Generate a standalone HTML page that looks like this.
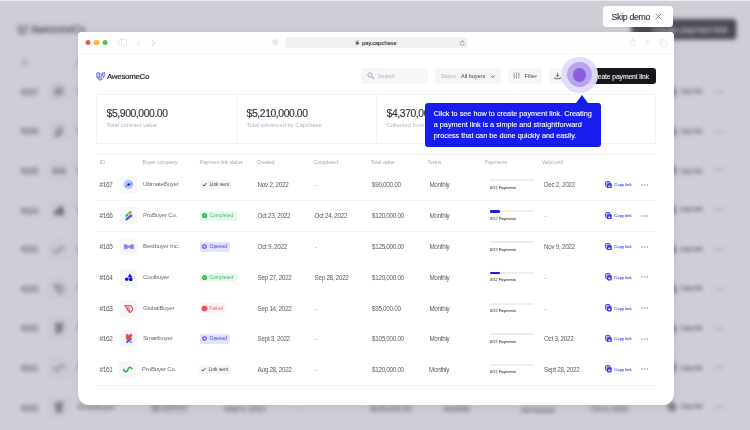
<!DOCTYPE html>
<html lang="en">
<head>
<meta charset="utf-8">
<meta name="viewport" content="width=750, initial-scale=1">
<title>pay.capchase</title>
<style>
*{box-sizing:border-box;margin:0;padding:0}
html,body{width:750px;height:430px;overflow:hidden;background:#fff}
body{font-family:"Liberation Sans",sans-serif;color:#4b4b56;-webkit-font-smoothing:antialiased}
.stage{position:relative;width:750px;height:430px;overflow:hidden;background:#fff}
.pg{position:absolute;left:0;top:0;width:750px;height:430px}
.pg.fg{pointer-events:none}
.bgwrap{position:absolute;left:0;top:0;width:750px;height:430px;overflow:hidden;filter:blur(1.9px) grayscale(1)}
.bgp{transform-origin:0 0;transform:translate(-105.9px,-68px) scale(1.28);height:600px}
.bgp .t{-webkit-text-stroke-width:.22px}
.veil{position:absolute;left:0;top:0;width:750px;height:430px;background:rgba(140,142,160,.433)}
.topline{position:absolute;left:0;top:0;width:750px;height:1px;background:rgba(255,255,255,.6)}
.t{position:absolute;white-space:nowrap;line-height:10px;height:10px;margin-top:-5px}
.ab{position:absolute;display:block;overflow:visible}
svg{display:block}

/* window */
.win{position:absolute;left:77.5px;top:32px;width:596.8px;height:373px;background:#fff;border-radius:4px 4px 11px 11px;box-shadow:0 2px 10px rgba(60,60,90,.10)}
.bar>*{transform:translateX(.5px)}
.bar{position:absolute;left:0;top:0;width:596.8px;height:21.5px;border-bottom:1px solid #f3f3f5;border-radius:4px 4px 0 0;background:#fefefe}
.tl{position:absolute;top:8.1px;width:5.4px;height:5.4px;border-radius:50%}
.tl.r{left:7.6px;background:#ee5a52}
.tl.y{left:15.8px;background:#f4b941}
.tl.g{left:24.1px;background:#4cbf52}
.url{position:absolute;left:207px;top:5px;width:182.4px;height:11.2px;border-radius:3px;background:#f0f0f2}
.ut{font-size:5.8px;color:#3e3e48;font-weight:700;letter-spacing:-.26px}

/* header */
.logo{position:absolute;width:9.8px;height:9px}
.logo svg{width:100%;height:100%}
.brand{font-size:7.9px;color:#26262e;letter-spacing:-.27px;-webkit-text-stroke:.2px #26262e}
.fld{position:absolute;height:16px;border-radius:3px;background:#f6f6f9}
.ph{font-size:5.4px;color:#b4b4c0;letter-spacing:-.05px}
.sv{font-size:5.5px;color:#3c3c46}
.fl{font-size:5.6px;color:#4a4a55}
.cta{position:absolute;height:16px;border-radius:3px;background:#17161b;color:#e9e9ee;font-size:6.8px;font-weight:400;line-height:16px;text-align:right;padding-right:7px;white-space:nowrap;letter-spacing:-.12px;-webkit-text-stroke:.12px #e9e9ee}
.cta span{position:relative;top:1px}

/* stats */
.stats{position:absolute;width:560px;height:49.8px;border:1px solid #f2f2f5;border-radius:1px}
.vd{position:absolute;width:1px;height:48.8px;background:#f2f2f5}
.sv1{font-size:10.4px;color:#33333c;letter-spacing:-.42px;line-height:12px;height:12px;margin-top:-6px;-webkit-text-stroke:.15px #33333c}
.sl{font-size:5.85px;color:#b3b3bf}

/* table */
.hl,.sep{position:absolute;left:96px;width:560px;height:1px;background:#f4f4f6}
.th{font-size:5.3px;color:#a9a9b5;letter-spacing:-.15px}
.id{font-size:6.5px;color:#5a5a66;letter-spacing:-.3px}
.nm{font-size:6.2px;color:#6b6b77;letter-spacing:-.25px}
.td{font-size:6.3px;color:#5a5a66;letter-spacing:-.29px}
.td.dash{color:#8a8a95}
.ib{position:absolute;width:16.7px;height:16.7px;border-radius:3px;background:#f7f7fa}
.ib svg{width:16.7px;height:16.7px}
.b{position:absolute;height:9.9px;border-radius:2px;font-size:4.9px;line-height:10.2px;white-space:nowrap}
.b span{position:absolute;left:9.2px;top:.7px}
.b .bi{position:absolute;left:1px;top:1.5px;width:7px;height:7px}
.bs{background:#f6f6f8;color:#3e3e48}
.bd{background:#e9f9ef;color:#42b866}
.bo{background:#e4e2fd;color:#3a3af0}
.bf{background:#fbf4f5;color:#ee666c}
.pb{position:absolute;width:44px;height:2px;border-radius:1px;background:#eeeef1}
.pb i{position:absolute;left:0;top:-.3px;height:2.6px;border-radius:1.3px;background:#1a1ee8}
.pl{font-size:3.9px;color:#4a4a55;-webkit-text-stroke:.08px #4a4a55}
.cp{position:absolute;width:7.2px;height:8px}
.cp svg{width:7px;height:7.8px}
.cl{font-size:4.2px;color:#4040ee;-webkit-text-stroke:.08px #4040ee}
.dots{width:7px;height:2px;fill:#8a8a96}

/* hotspot */
.spot{position:absolute;left:579.5px;top:74.9px;width:0;height:0}
.spot i{position:absolute;border-radius:50%}
.s1{left:-18.2px;top:-18.2px;width:36.4px;height:36.4px;background:rgba(225,221,249,.96)}
.s2{left:-12.6px;top:-12.6px;width:25.2px;height:25.2px;background:#b6a6ee}
.s3{left:-6.8px;top:-6.8px;width:13.6px;height:13.6px;background:#8e5cde}

/* tooltip */
.tip{position:absolute;left:425.2px;top:102.8px;width:175.8px;height:44.5px;background:#171dec;border-radius:3px;color:#fff}
.tip .arrow{position:absolute;left:150.8px;top:-7.6px;width:0;height:0;border-left:6.6px solid transparent;border-right:6.6px solid transparent;border-bottom:8px solid #171dec}
.tip p{position:absolute;left:8.5px;top:6.6px;font-size:7.3px;line-height:10.7px;white-space:nowrap;-webkit-text-stroke:.1px #fff}

/* skip */
.skip{position:absolute;left:603.3px;top:6.2px;width:69.7px;height:20.5px;border-radius:3.5px;background:#fff}
.skip span{position:absolute;left:8.3px;top:.6px;line-height:20.5px;font-size:8.7px;color:#34343e;letter-spacing:-.3px;-webkit-text-stroke:.15px #34343e;white-space:nowrap}
.skip svg{position:absolute;left:51.5px;top:7px;width:7px;height:7px}

</style>
</head>
<body>
<div class="stage">

<div class="bgwrap" aria-hidden="true">
<div class="pg bgp">
<div class="logo" style="left:95.6px;top:72px"><svg class="lg" viewBox="0 0 20 18"><rect x="1.5" y="1.2" width="5.600" height="10" rx="1.200" fill="#c6cbff" stroke="#4a55f2" stroke-width="1.500"/><rect x="8" y="3" width="3.800" height="9" rx="1" fill="#dfe2ff" stroke="#6a74f6" stroke-width="1.200"/><path d="M13 1.800l5.200-.8q.8 5.200-2 8.600l-3.600-1.800z" fill="#c6cbff" stroke="#4a55f2" stroke-width="1.500" stroke-linejoin="round"/><path d="M2.400 10.500q1.600 5 6.800 6 4.400-1.400 6.800-6" fill="none" stroke="#4a55f2" stroke-width="1.600"/><circle cx="8" cy="13.200" r="2.500" fill="#e6e8ff" stroke="#4a55f2" stroke-width="1.300"/></svg></div>
<div class="t brand" style="left:107px;top:76.6px">AwesomeCo</div>
<div class="cta" style="left:576px;top:68.3px;width:82px"><span>Create payment link</span></div>
<div class="t th" style="left:99.6px;top:102.3px">ID</div>
<div class="t th" style="left:142.6px;top:102.3px">Buyer company</div>
<div class="t th" style="left:199.6px;top:102.3px">Payment link status</div>
<div class="t th" style="left:256.6px;top:102.3px">Created</div>
<div class="t th" style="left:313.6px;top:102.3px">Completed</div>
<div class="t th" style="left:370.6px;top:102.3px">Total value</div>
<div class="t th" style="left:427.6px;top:102.3px">Terms</div>
<div class="t th" style="left:484.6px;top:102.3px">Payments</div>
<div class="t th" style="left:541.8px;top:102.3px">Valid until</div>
<div class="row">
<div class="t id" style="left:99.4px;top:125.1px">#167</div>
<div class="ib" style="left:119.9px;top:116.4px"><svg viewBox="0 0 16 16"><circle cx="8.2" cy="8.1" r="4.5" fill="#b4caff"/><path d="M5 10.2l3.200-2" stroke="#6f72f4" stroke-width="1" fill="none"/><path d="M10.900 5.600v3.200" stroke="#6f80f6" stroke-width="1"/><circle cx="8.400" cy="8.200" r="1.200" fill="#1a1ae8"/></svg></div>
<div class="t nm" style="left:143px;top:124.4px">UltimateBuyer</div>
<div class="b bs" style="left:200.4px;top:119.9px;width:31.6px"><svg class="bi" viewBox="0 0 7 7"><path d="M1.600 3.700l1.300 1.300 2.500-2.900" stroke="#3c3c46" stroke-width=".95" fill="none"/></svg><span>Link sent</span></div>
<div class="t td" style="left:257.6px;top:125.1px">Nov 2, 2022</div>
<div class="t td dash" style="left:315px;top:125.1px">-</div>
<div class="t td" style="left:372px;top:125.1px">$90,000.00</div>
<div class="t td" style="left:429.4px;top:125.1px">Monthly</div>
<div class="pb" style="left:490px;top:119.6px"></div>
<div class="t pl" style="left:490px;top:127.8px">0/12 Payments</div>
<div class="t td" style="left:544px;top:125.1px">Dec 2, 2022</div>
<div class="cp" style="left:603.6px;top:120.8px"><svg class="ci" viewBox="0 0 14 16" preserveAspectRatio="none"><rect x="1" y="1" width="9" height="10.4" rx="2" fill="#b9b9fa" stroke="#4040ee" stroke-width="1.9"/><rect x="4" y="4.6" width="9.4" height="10.6" rx="2.2" fill="#3636ea"/><rect x="6.6" y="9.4" width="4.2" height="3.4" rx="0.8" fill="#fff" opacity=".9"/></svg></div>
<div class="t cl" style="left:614.3px;top:125px">Copy link</div>
<svg class="ab dots" style="left:640.6px;top:123.8px" viewBox="0 0 7 2"><circle cx=".9" cy="1" r=".75"/><circle cx="3.5" cy="1" r=".75"/><circle cx="6.1" cy="1" r=".75"/></svg>
</div>
<div class="row">
<div class="t id" style="left:99.4px;top:155.9px">#166</div>
<div class="ib" style="left:119.9px;top:147.2px"><svg viewBox="0 0 16 16"><path d="M6 8.400L10.100 4.900" stroke="#3fb654" stroke-width="2.100" stroke-linecap="round"/><rect x="7.100" y="5.600" width="1.900" height="1.900" transform="rotate(45 8 6.600)" fill="#f5b23a"/><path d="M6.200 11.800L10.800 8.200" stroke="#5a5cf6" stroke-width="2.300" stroke-linecap="round"/></svg></div>
<div class="t nm" style="left:143px;top:155.2px">ProBuyer Co.</div>
<div class="b bd" style="left:200.4px;top:150.7px;width:36.6px"><svg class="bi" viewBox="0 0 7 7"><circle cx="3.500" cy="3.500" r="2.600" fill="#38b552"/><path d="M2.600 3.600l.7.700 1.200-1.400" stroke="#dff5e5" stroke-width=".7" fill="none"/></svg><span>Completed</span></div>
<div class="t td" style="left:257.6px;top:155.9px">Oct 23, 2022</div>
<div class="t td" style="left:314.6px;top:155.9px">Oct 24, 2022</div>
<div class="t td" style="left:372px;top:155.9px">$120,000.00</div>
<div class="t td" style="left:429.4px;top:155.9px">Monthly</div>
<div class="pb" style="left:490px;top:150.4px"><i style="width:10.4px"></i></div>
<div class="t pl" style="left:490px;top:158.6px">3/12 Payments</div>
<div class="t td dash" style="left:544.4px;top:155.9px">-</div>
<div class="cp" style="left:603.6px;top:151.6px"><svg class="ci" viewBox="0 0 14 16" preserveAspectRatio="none"><rect x="1" y="1" width="9" height="10.4" rx="2" fill="#b9b9fa" stroke="#4040ee" stroke-width="1.9"/><rect x="4" y="4.6" width="9.4" height="10.6" rx="2.2" fill="#3636ea"/><rect x="6.6" y="9.4" width="4.2" height="3.4" rx="0.8" fill="#fff" opacity=".9"/></svg></div>
<div class="t cl" style="left:614.3px;top:155.8px">Copy link</div>
<svg class="ab dots" style="left:640.6px;top:154.6px" viewBox="0 0 7 2"><circle cx=".9" cy="1" r=".75"/><circle cx="3.5" cy="1" r=".75"/><circle cx="6.1" cy="1" r=".75"/></svg>
</div>
<div class="row">
<div class="t id" style="left:99.4px;top:186.7px">#165</div>
<div class="ib" style="left:119.9px;top:178px"><svg viewBox="0 0 16 16"><path d="M4 6.300q2.300-.2 4.500 1.300 2.200-1.500 4.500-1.300v4.200q-2.300.2-4.500-1.300-2.200 1.500-4.500 1.300z" fill="#9d88f5" stroke="#9d88f5" stroke-width=".7" stroke-linejoin="round"/><circle cx="5.600" cy="8.400" r=".9" fill="#6f74f6"/><circle cx="11.300" cy="8.400" r=".9" fill="#6f74f6"/></svg></div>
<div class="t nm" style="left:143px;top:186px">Bestbuyer Inc.</div>
<div class="b bo" style="left:200.4px;top:181.5px;width:29.6px"><svg class="bi" viewBox="0 0 7 7"><circle cx="3.500" cy="3.500" r="1.800" fill="#dcdcfc" stroke="#4545f0" stroke-width="1.100"/></svg><span>Opened</span></div>
<div class="t td" style="left:257.6px;top:186.7px">Oct 9, 2022</div>
<div class="t td dash" style="left:315px;top:186.7px">-</div>
<div class="t td" style="left:372px;top:186.7px">$125,000.00</div>
<div class="t td" style="left:429.4px;top:186.7px">Monthly</div>
<div class="pb" style="left:490px;top:181.2px"></div>
<div class="t pl" style="left:490px;top:189.4px">0/12 Payments</div>
<div class="t td" style="left:544px;top:186.7px">Nov 9, 2022</div>
<div class="cp" style="left:603.6px;top:182.4px"><svg class="ci" viewBox="0 0 14 16" preserveAspectRatio="none"><rect x="1" y="1" width="9" height="10.4" rx="2" fill="#b9b9fa" stroke="#4040ee" stroke-width="1.9"/><rect x="4" y="4.6" width="9.4" height="10.6" rx="2.2" fill="#3636ea"/><rect x="6.6" y="9.4" width="4.2" height="3.4" rx="0.8" fill="#fff" opacity=".9"/></svg></div>
<div class="t cl" style="left:614.3px;top:186.6px">Copy link</div>
<svg class="ab dots" style="left:640.6px;top:185.4px" viewBox="0 0 7 2"><circle cx=".9" cy="1" r=".75"/><circle cx="3.5" cy="1" r=".75"/><circle cx="6.1" cy="1" r=".75"/></svg>
</div>
<div class="row">
<div class="t id" style="left:99.4px;top:217.5px">#164</div>
<div class="ib" style="left:119.9px;top:208.8px"><svg viewBox="0 0 16 16"><path d="M9.500 4.700l2 3.100H7.900z" fill="#0d0df0" stroke="#0d0df0" stroke-width=".5" stroke-linejoin="round"/><circle cx="6.500" cy="9.800" r="1.700" fill="#0d0df0"/><rect x="8.700" y="8.300" width="3.200" height="3.300" rx=".7" fill="#0d0df0"/></svg></div>
<div class="t nm" style="left:143px;top:216.8px">Coolbuyer</div>
<div class="b bd" style="left:200.4px;top:212.3px;width:36.6px"><svg class="bi" viewBox="0 0 7 7"><circle cx="3.500" cy="3.500" r="2.600" fill="#38b552"/><path d="M2.600 3.600l.7.700 1.200-1.400" stroke="#dff5e5" stroke-width=".7" fill="none"/></svg><span>Completed</span></div>
<div class="t td" style="left:257.6px;top:217.5px">Sep 27, 2022</div>
<div class="t td" style="left:314.6px;top:217.5px">Sep 28, 2022</div>
<div class="t td" style="left:372px;top:217.5px">$120,000.00</div>
<div class="t td" style="left:429.4px;top:217.5px">Monthly</div>
<div class="pb" style="left:490px;top:212px"><i style="width:10.4px"></i></div>
<div class="t pl" style="left:490px;top:220.2px">3/12 Payments</div>
<div class="t td dash" style="left:544.4px;top:217.5px">-</div>
<div class="cp" style="left:603.6px;top:213.2px"><svg class="ci" viewBox="0 0 14 16" preserveAspectRatio="none"><rect x="1" y="1" width="9" height="10.4" rx="2" fill="#b9b9fa" stroke="#4040ee" stroke-width="1.9"/><rect x="4" y="4.6" width="9.4" height="10.6" rx="2.2" fill="#3636ea"/><rect x="6.6" y="9.4" width="4.2" height="3.4" rx="0.8" fill="#fff" opacity=".9"/></svg></div>
<div class="t cl" style="left:614.3px;top:217.4px">Copy link</div>
<svg class="ab dots" style="left:640.6px;top:216.2px" viewBox="0 0 7 2"><circle cx=".9" cy="1" r=".75"/><circle cx="3.5" cy="1" r=".75"/><circle cx="6.1" cy="1" r=".75"/></svg>
</div>
<div class="row">
<div class="t id" style="left:99.4px;top:248.3px">#161</div>
<div class="ib" style="left:119.9px;top:239.6px"><svg viewBox="0 0 16 16"><path d="M4.700 8.200C5 10.700 7.600 10.800 8.400 8.300 9.100 5.800 11 5.300 12.300 7.300" stroke="#38b84f" stroke-width="1.700" fill="none" stroke-linecap="round"/></svg></div>
<div class="t nm" style="left:143px;top:247.6px">ProBuyer Co.</div>
<div class="b bs" style="left:200.4px;top:243.1px;width:31.6px"><svg class="bi" viewBox="0 0 7 7"><path d="M1.600 3.700l1.300 1.300 2.500-2.900" stroke="#3c3c46" stroke-width=".95" fill="none"/></svg><span>Link sent</span></div>
<div class="t td" style="left:257.6px;top:248.3px">Aug 28, 2022</div>
<div class="t td dash" style="left:315px;top:248.3px">-</div>
<div class="t td" style="left:372px;top:248.3px">$120,000.00</div>
<div class="t td" style="left:429.4px;top:248.3px">Monthly</div>
<div class="pb" style="left:490px;top:242.8px"></div>
<div class="t pl" style="left:490px;top:251px">0/12 Payments</div>
<div class="t td" style="left:544px;top:248.3px">Sept 28, 2022</div>
<div class="cp" style="left:603.6px;top:244px"><svg class="ci" viewBox="0 0 14 16" preserveAspectRatio="none"><rect x="1" y="1" width="9" height="10.4" rx="2" fill="#b9b9fa" stroke="#4040ee" stroke-width="1.9"/><rect x="4" y="4.6" width="9.4" height="10.6" rx="2.2" fill="#3636ea"/><rect x="6.6" y="9.4" width="4.2" height="3.4" rx="0.8" fill="#fff" opacity=".9"/></svg></div>
<div class="t cl" style="left:614.3px;top:248.2px">Copy link</div>
<svg class="ab dots" style="left:640.6px;top:247px" viewBox="0 0 7 2"><circle cx=".9" cy="1" r=".75"/><circle cx="3.5" cy="1" r=".75"/><circle cx="6.1" cy="1" r=".75"/></svg>
</div>
<div class="row">
<div class="t id" style="left:99.4px;top:279.1px">#163</div>
<div class="ib" style="left:119.9px;top:270.4px"><svg viewBox="-.6 -.7 17.400 17.400"><path d="M4.300 5l6.100.3q2.700 1.700 2.100 4.300-.8 2.200-3.200 2.700z" fill="none" stroke="#e84545" stroke-width="1.050" stroke-linejoin="round"/><path d="M6.500 6.800l2.800.2M8.800 7l.6 4.600M6.600 7l2.600 4.400" stroke="#e84545" stroke-width=".8" fill="none"/></svg></div>
<div class="t nm" style="left:143px;top:278.4px">GlobalBuyer</div>
<div class="b bf" style="left:200.4px;top:273.9px;width:25.6px"><svg class="bi" viewBox="0 0 7 7"><path d="M2.400.9h2.200l1.500 1.500v2.200L4.600 6.100H2.400L.9 4.600V2.400z" fill="#ea5050" stroke="#ea5050" stroke-width=".5" stroke-linejoin="round"/></svg><span>Failed</span></div>
<div class="t td" style="left:257.6px;top:279.1px">Sep 14, 2022</div>
<div class="t td dash" style="left:315px;top:279.1px">-</div>
<div class="t td" style="left:372px;top:279.1px">$95,000.00</div>
<div class="t td" style="left:429.4px;top:279.1px">Monthly</div>
<div class="pb" style="left:490px;top:273.6px"></div>
<div class="t pl" style="left:490px;top:281.8px">0/12 Payments</div>
<div class="t td dash" style="left:544.4px;top:279.1px">-</div>
<div class="cp" style="left:603.6px;top:274.8px"><svg class="ci" viewBox="0 0 14 16" preserveAspectRatio="none"><rect x="1" y="1" width="9" height="10.4" rx="2" fill="#b9b9fa" stroke="#4040ee" stroke-width="1.9"/><rect x="4" y="4.6" width="9.4" height="10.6" rx="2.2" fill="#3636ea"/><rect x="6.6" y="9.4" width="4.2" height="3.4" rx="0.8" fill="#fff" opacity=".9"/></svg></div>
<div class="t cl" style="left:614.3px;top:279px">Copy link</div>
<svg class="ab dots" style="left:640.6px;top:277.8px" viewBox="0 0 7 2"><circle cx=".9" cy="1" r=".75"/><circle cx="3.5" cy="1" r=".75"/><circle cx="6.1" cy="1" r=".75"/></svg>
</div>
<div class="row">
<div class="t id" style="left:99.4px;top:309.9px">#162</div>
<div class="ib" style="left:119.9px;top:301.2px"><svg viewBox="0 0 16 16"><path d="M6.200 4l2.300 1.200L11 3.900l.4 1.700-2.200 2.300-2.600 1.400-.6-2.600z" fill="#ea4a46" stroke="#ea4a46" stroke-width=".9" stroke-linejoin="round"/><path d="M10.300 8.300L6.900 11.500" stroke="#7a3cf0" stroke-width="2.100" stroke-linecap="round"/><circle cx="10.500" cy="8.200" r="1.050" fill="#5c74f8"/><circle cx="10.500" cy="11.600" r="1" fill="#3fb654"/></svg></div>
<div class="t nm" style="left:143px;top:309.2px">Smartbuyer</div>
<div class="b bo" style="left:200.4px;top:304.7px;width:29.6px"><svg class="bi" viewBox="0 0 7 7"><circle cx="3.500" cy="3.500" r="1.800" fill="#dcdcfc" stroke="#4545f0" stroke-width="1.100"/></svg><span>Opened</span></div>
<div class="t td" style="left:257.6px;top:309.9px">Sept 3, 2022</div>
<div class="t td dash" style="left:315px;top:309.9px">-</div>
<div class="t td" style="left:372px;top:309.9px">$105,000.00</div>
<div class="t td" style="left:429.4px;top:309.9px">Monthly</div>
<div class="pb" style="left:490px;top:304.4px"></div>
<div class="t pl" style="left:490px;top:312.6px">0/12 Payments</div>
<div class="t td" style="left:544px;top:309.9px">Oct 3, 2022</div>
<div class="cp" style="left:603.6px;top:305.6px"><svg class="ci" viewBox="0 0 14 16" preserveAspectRatio="none"><rect x="1" y="1" width="9" height="10.4" rx="2" fill="#b9b9fa" stroke="#4040ee" stroke-width="1.9"/><rect x="4" y="4.6" width="9.4" height="10.6" rx="2.2" fill="#3636ea"/><rect x="6.6" y="9.4" width="4.2" height="3.4" rx="0.8" fill="#fff" opacity=".9"/></svg></div>
<div class="t cl" style="left:614.3px;top:309.8px">Copy link</div>
<svg class="ab dots" style="left:640.6px;top:308.6px" viewBox="0 0 7 2"><circle cx=".9" cy="1" r=".75"/><circle cx="3.5" cy="1" r=".75"/><circle cx="6.1" cy="1" r=".75"/></svg>
</div>
<div class="row">
<div class="t id" style="left:99.4px;top:340.7px">#161</div>
<div class="ib" style="left:119.9px;top:332px"><svg viewBox="0 0 16 16"><path d="M4.700 8.200C5 10.700 7.600 10.800 8.400 8.300 9.100 5.800 11 5.300 12.300 7.300" stroke="#38b84f" stroke-width="1.700" fill="none" stroke-linecap="round"/></svg></div>
<div class="t nm" style="left:143px;top:340px">ProBuyer Co.</div>
<div class="b bs" style="left:200.4px;top:335.5px;width:31.6px"><svg class="bi" viewBox="0 0 7 7"><path d="M1.600 3.700l1.300 1.300 2.500-2.900" stroke="#3c3c46" stroke-width=".95" fill="none"/></svg><span>Link sent</span></div>
<div class="t td" style="left:257.6px;top:340.7px">Aug 28, 2022</div>
<div class="t td dash" style="left:315px;top:340.7px">-</div>
<div class="t td" style="left:372px;top:340.7px">$120,000.00</div>
<div class="t td" style="left:429.4px;top:340.7px">Monthly</div>
<div class="pb" style="left:490px;top:335.2px"></div>
<div class="t pl" style="left:490px;top:343.4px">0/12 Payments</div>
<div class="t td" style="left:544px;top:340.7px">Sept 28, 2022</div>
<div class="cp" style="left:603.6px;top:336.4px"><svg class="ci" viewBox="0 0 14 16" preserveAspectRatio="none"><rect x="1" y="1" width="9" height="10.4" rx="2" fill="#b9b9fa" stroke="#4040ee" stroke-width="1.9"/><rect x="4" y="4.6" width="9.4" height="10.6" rx="2.2" fill="#3636ea"/><rect x="6.6" y="9.4" width="4.2" height="3.4" rx="0.8" fill="#fff" opacity=".9"/></svg></div>
<div class="t cl" style="left:614.3px;top:340.6px">Copy link</div>
<svg class="ab dots" style="left:640.6px;top:339.4px" viewBox="0 0 7 2"><circle cx=".9" cy="1" r=".75"/><circle cx="3.5" cy="1" r=".75"/><circle cx="6.1" cy="1" r=".75"/></svg>
</div>
<div class="row">
<div class="t id" style="left:99.4px;top:371.5px">#162</div>
<div class="ib" style="left:119.9px;top:362.8px"><svg viewBox="0 0 16 16"><path d="M6.200 4l2.300 1.200L11 3.900l.4 1.700-2.200 2.300-2.600 1.400-.6-2.600z" fill="#ea4a46" stroke="#ea4a46" stroke-width=".9" stroke-linejoin="round"/><path d="M10.300 8.300L6.900 11.500" stroke="#7a3cf0" stroke-width="2.100" stroke-linecap="round"/><circle cx="10.500" cy="8.200" r="1.050" fill="#5c74f8"/><circle cx="10.500" cy="11.600" r="1" fill="#3fb654"/></svg></div>
<div class="t nm" style="left:143px;top:370.8px">Smartbuyer</div>
<div class="b bo" style="left:200.4px;top:366.3px;width:29.6px"><svg class="bi" viewBox="0 0 7 7"><circle cx="3.500" cy="3.500" r="1.800" fill="#dcdcfc" stroke="#4545f0" stroke-width="1.100"/></svg><span>Opened</span></div>
<div class="t td" style="left:257.6px;top:371.5px">Sept 3, 2022</div>
<div class="t td dash" style="left:315px;top:371.5px">-</div>
<div class="t td" style="left:372px;top:371.5px">$105,000.00</div>
<div class="t td" style="left:429.4px;top:371.5px">Monthly</div>
<div class="pb" style="left:490px;top:366px"></div>
<div class="t pl" style="left:490px;top:374.2px">0/12 Payments</div>
<div class="t td" style="left:544px;top:371.5px">Oct 3, 2022</div>
<div class="cp" style="left:603.6px;top:367.2px"><svg class="ci" viewBox="0 0 14 16" preserveAspectRatio="none"><rect x="1" y="1" width="9" height="10.4" rx="2" fill="#b9b9fa" stroke="#4040ee" stroke-width="1.9"/><rect x="4" y="4.6" width="9.4" height="10.6" rx="2.2" fill="#3636ea"/><rect x="6.6" y="9.4" width="4.2" height="3.4" rx="0.8" fill="#fff" opacity=".9"/></svg></div>
<div class="t cl" style="left:614.3px;top:371.4px">Copy link</div>
<svg class="ab dots" style="left:640.6px;top:370.2px" viewBox="0 0 7 2"><circle cx=".9" cy="1" r=".75"/><circle cx="3.5" cy="1" r=".75"/><circle cx="6.1" cy="1" r=".75"/></svg>
</div>
<div class="row">
<div class="t id" style="left:99.4px;top:402.3px">#164</div>
<div class="ib" style="left:119.9px;top:393.6px"><svg viewBox="0 0 16 16"><path d="M9.500 4.700l2 3.100H7.900z" fill="#0d0df0" stroke="#0d0df0" stroke-width=".5" stroke-linejoin="round"/><circle cx="6.500" cy="9.800" r="1.700" fill="#0d0df0"/><rect x="8.700" y="8.300" width="3.200" height="3.300" rx=".7" fill="#0d0df0"/></svg></div>
<div class="t nm" style="left:143px;top:401.6px">Coolbuyer</div>
<div class="b bd" style="left:200.4px;top:397.1px;width:36.6px"><svg class="bi" viewBox="0 0 7 7"><circle cx="3.500" cy="3.500" r="2.600" fill="#38b552"/><path d="M2.600 3.600l.7.700 1.200-1.400" stroke="#dff5e5" stroke-width=".7" fill="none"/></svg><span>Completed</span></div>
<div class="t td" style="left:257.6px;top:402.3px">Sep 27, 2022</div>
<div class="t td" style="left:314.6px;top:402.3px">Sep 28, 2022</div>
<div class="t td" style="left:372px;top:402.3px">$120,000.00</div>
<div class="t td" style="left:429.4px;top:402.3px">Monthly</div>
<div class="pb" style="left:490px;top:396.8px"><i style="width:10.4px"></i></div>
<div class="t pl" style="left:490px;top:405px">3/12 Payments</div>
<div class="t td dash" style="left:544.4px;top:402.3px">-</div>
<div class="cp" style="left:603.6px;top:398px"><svg class="ci" viewBox="0 0 14 16" preserveAspectRatio="none"><rect x="1" y="1" width="9" height="10.4" rx="2" fill="#b9b9fa" stroke="#4040ee" stroke-width="1.9"/><rect x="4" y="4.6" width="9.4" height="10.6" rx="2.2" fill="#3636ea"/><rect x="6.6" y="9.4" width="4.2" height="3.4" rx="0.8" fill="#fff" opacity=".9"/></svg></div>
<div class="t cl" style="left:614.3px;top:402.2px">Copy link</div>
<svg class="ab dots" style="left:640.6px;top:401px" viewBox="0 0 7 2"><circle cx=".9" cy="1" r=".75"/><circle cx="3.5" cy="1" r=".75"/><circle cx="6.1" cy="1" r=".75"/></svg>
</div>
</div>
</div>
<div class="veil"></div>
<div class="topline"></div>

<div class="win">
<div class="bar">
<i class="tl r"></i><i class="tl y"></i><i class="tl g"></i>
<svg class="ab" style="left:40.2px;top:7.2px;width:8.6px;height:6.6px" viewBox="0 0 17 13"><rect x=".8" y=".8" width="15.4" height="11.4" rx="1.8" fill="none" stroke="#dedee3" stroke-width="1.5"/><path d="M6 1v11" stroke="#dedee3" stroke-width="1.4"/></svg>
<svg class="ab" style="left:58.6px;top:7.6px;width:3.8px;height:6.2px" viewBox="0 0 7 12"><path d="M6 1L1.2 6 6 11" fill="none" stroke="#dcdce1" stroke-width="1.6"/></svg>
<svg class="ab" style="left:73px;top:7.6px;width:3.8px;height:6.2px" viewBox="0 0 7 12"><path d="M1 1l4.8 5L1 11" fill="none" stroke="#b9b9c1" stroke-width="1.6"/></svg>
<svg class="ab" style="left:194.6px;top:6.8px;width:5.6px;height:6.8px" viewBox="0 0 11 13"><path d="M5.5 1l4.5 1.6v3.8c0 2.8-1.8 4.6-4.5 5.6C2.8 11 1 9.2 1 6.4V2.6z" fill="#ececef" stroke="#dadadf" stroke-width="1.2"/></svg>
<div class="url"></div>
<svg class="ab" style="left:277.8px;top:8px;width:3.6px;height:4.8px" viewBox="0 0 8 10"><rect x=".5" y="4" width="7" height="5.8" rx="1.2" fill="#62626c"/><path d="M2 4.2V3a2 2 0 0 1 4 0v1.2" stroke="#62626c" stroke-width="1.3" fill="none"/></svg>
<div class="t ut" style="left:284px;top:10.8px">pay.capchase</div>
<svg class="ab" style="left:381.4px;top:7.6px;width:5.8px;height:6.2px" viewBox="0 0 12 13"><path d="M10 7a4.2 4.2 0 1 1-1.6-3.4" fill="none" stroke="#8a8a94" stroke-width="1.5"/><path d="M6.8 1l2.2 2.4-2.6 1.4" fill="none" stroke="#8a8a94" stroke-width="1.3"/></svg>
<svg class="ab" style="left:551.8px;top:6.2px;width:6.6px;height:7.8px" viewBox="0 0 13 16"><path d="M4 5.5H1.8v9.5h9.4V5.5H9" fill="none" stroke="#e3e3e8" stroke-width="1.4"/><path d="M6.5 9.5V1M4 3.2L6.500.9 9 3.2" fill="none" stroke="#e3e3e8" stroke-width="1.4"/></svg>
<svg class="ab" style="left:566.4px;top:7.4px;width:6.4px;height:6.4px" viewBox="0 0 12 12"><path d="M6 .5v11M.5 6h11" stroke="#e3e3e8" stroke-width="1.4"/></svg>
<svg class="ab" style="left:581.2px;top:6.6px;width:7.6px;height:7.6px" viewBox="0 0 15 15"><rect x="4" y="4" width="10" height="10" rx="2" fill="none" stroke="#e3e3e8" stroke-width="1.4"/><path d="M11 2.5A1.8 1.8 0 0 0 9.4 1.2H3A2 2 0 0 0 1 3.2v6.4A1.8 1.8 0 0 0 2.4 11" fill="none" stroke="#e3e3e8" stroke-width="1.4"/></svg>
</div>
</div>

<div class="pg fg">
<div class="logo" style="left:95.6px;top:72px"><svg class="lg" viewBox="0 0 20 18"><rect x="1.5" y="1.2" width="5.600" height="10" rx="1.200" fill="#c6cbff" stroke="#4a55f2" stroke-width="1.500"/><rect x="8" y="3" width="3.800" height="9" rx="1" fill="#dfe2ff" stroke="#6a74f6" stroke-width="1.200"/><path d="M13 1.800l5.200-.8q.8 5.200-2 8.600l-3.600-1.800z" fill="#c6cbff" stroke="#4a55f2" stroke-width="1.500" stroke-linejoin="round"/><path d="M2.400 10.500q1.600 5 6.800 6 4.400-1.400 6.800-6" fill="none" stroke="#4a55f2" stroke-width="1.600"/><circle cx="8" cy="13.200" r="2.500" fill="#e6e8ff" stroke="#4a55f2" stroke-width="1.300"/></svg></div>
<div class="t brand" style="left:107px;top:76.6px">AwesomeCo</div>
<div class="fld" style="left:361.3px;top:67.8px;width:66.8px"></div>
<svg class="ab" style="left:367px;top:71.6px;width:7.4px;height:7.4px" viewBox="0 0 16 16"><circle cx="6.4" cy="6.4" r="4.6" fill="none" stroke="#a2a2b0" stroke-width="2"/><path d="M10 10l4.6 4.6" stroke="#a2a2b0" stroke-width="2.4" stroke-linecap="round"/></svg>
<div class="t ph" style="left:378px;top:76px">Search</div>
<div class="fld" style="left:434.6px;top:67.8px;width:66.6px"></div>
<div class="t ph" style="left:441px;top:76px">Status :</div>
<div class="t sv" style="left:461px;top:76px">All buyers</div>
<svg class="ab" style="left:489.6px;top:73.6px;width:5.4px;height:5px" viewBox="0 0 10 9"><path d="M1.6 2.8L5 6.2 8.4 2.8" stroke="#3c3c46" stroke-width="1.5" fill="none"/></svg>
<div class="fld" style="left:508px;top:67.8px;width:34px"></div>
<svg class="ab" style="left:513.4px;top:72.4px;width:7px;height:7.2px" viewBox="0 0 14 14"><path d="M2.4 1v4M2.4 8v5M7 1v6M7 10v3M11.6 1v2.5M11.6 6.5V13" stroke="#6a6a76" stroke-width="1.3"/><path d="M.8 6.4h3.2M5.4 8.6h3.2M10 5h3.2" stroke="#6a6a76" stroke-width="1.3"/></svg>
<div class="t fl" style="left:524.6px;top:76px">Filter</div>
<div class="fld" style="left:549px;top:67.8px;width:17px"></div>
<svg class="ab" style="left:554.2px;top:71.8px;width:7.2px;height:7.6px" viewBox="0 0 14 15"><path d="M7 1.5v7.4M3.8 6.2L7 9.4l3.2-3.2" stroke="#4a4a55" stroke-width="1.6" fill="none"/><path d="M1.6 10.4v2.8h10.8v-2.8" stroke="#4a4a55" stroke-width="1.6" fill="none"/></svg>
<div class="cta" style="left:575px;top:67.8px;width:81px"><span>Create payment link</span></div>
<div class="stats" style="left:96px;top:94px"></div>
<div class="t sv1" style="left:106.6px;top:114.4px">$5,900,000.00</div>
<div class="t sl" style="left:106.6px;top:125.4px">Total contract value</div>
<div class="vd" style="left:236.4px;top:94.5px"></div>
<div class="t sv1" style="left:246.6px;top:114.4px">$5,210,000.00</div>
<div class="t sl" style="left:246.6px;top:125.4px">Total advanced by Capchase</div>
<div class="vd" style="left:376.4px;top:94.5px"></div>
<div class="t sv1" style="left:386.6px;top:114.4px">$4,370,000.00</div>
<div class="t sl" style="left:386.6px;top:125.4px">Collected from buyers</div>
<div class="vd" style="left:516.4px;top:94.5px"></div>
<div class="hl" style="top:154px"></div>
<div class="t th" style="left:99.6px;top:162px">ID</div>
<div class="t th" style="left:142.6px;top:162px">Buyer company</div>
<div class="t th" style="left:199.6px;top:162px">Payment link status</div>
<div class="t th" style="left:256.6px;top:162px">Created</div>
<div class="t th" style="left:313.6px;top:162px">Completed</div>
<div class="t th" style="left:370.6px;top:162px">Total value</div>
<div class="t th" style="left:427.6px;top:162px">Terms</div>
<div class="t th" style="left:484.6px;top:162px">Payments</div>
<div class="t th" style="left:541.8px;top:162px">Valid until</div>
<div class="row">
<div class="t id" style="left:99.4px;top:184.8px">#167</div>
<div class="ib" style="left:119.9px;top:176.1px"><svg viewBox="0 0 16 16"><circle cx="8.2" cy="8.1" r="4.5" fill="#b4caff"/><path d="M5 10.2l3.200-2" stroke="#6f72f4" stroke-width="1" fill="none"/><path d="M10.900 5.600v3.200" stroke="#6f80f6" stroke-width="1"/><circle cx="8.400" cy="8.200" r="1.200" fill="#1a1ae8"/></svg></div>
<div class="t nm" style="left:143px;top:184.1px">UltimateBuyer</div>
<div class="b bs" style="left:200.4px;top:179.6px;width:31.6px"><svg class="bi" viewBox="0 0 7 7"><path d="M1.600 3.700l1.300 1.300 2.500-2.900" stroke="#3c3c46" stroke-width=".95" fill="none"/></svg><span>Link sent</span></div>
<div class="t td" style="left:257.6px;top:184.8px">Nov 2, 2022</div>
<div class="t td dash" style="left:315px;top:184.8px">-</div>
<div class="t td" style="left:372px;top:184.8px">$90,000.00</div>
<div class="t td" style="left:429.4px;top:184.8px">Monthly</div>
<div class="pb" style="left:490px;top:179.3px"></div>
<div class="t pl" style="left:490px;top:187.5px">0/12 Payments</div>
<div class="t td" style="left:544px;top:184.8px">Dec 2, 2022</div>
<div class="cp" style="left:605.2px;top:180.5px"><svg class="ci" viewBox="0 0 14 16" preserveAspectRatio="none"><rect x="1" y="1" width="9" height="10.4" rx="2" fill="#b9b9fa" stroke="#4040ee" stroke-width="1.9"/><rect x="4" y="4.6" width="9.4" height="10.6" rx="2.2" fill="#3636ea"/><rect x="6.6" y="9.4" width="4.2" height="3.4" rx="0.8" fill="#fff" opacity=".9"/></svg></div>
<div class="t cl" style="left:614.3px;top:184.7px">Copy link</div>
<svg class="ab dots" style="left:640.6px;top:183.5px" viewBox="0 0 7 2"><circle cx=".9" cy="1" r=".75"/><circle cx="3.5" cy="1" r=".75"/><circle cx="6.1" cy="1" r=".75"/></svg>
<div class="sep" style="top:199.6px"></div>
</div>
<div class="row">
<div class="t id" style="left:99.4px;top:215.9px">#166</div>
<div class="ib" style="left:119.9px;top:207.2px"><svg viewBox="0 0 16 16"><path d="M6 8.400L10.100 4.900" stroke="#3fb654" stroke-width="2.100" stroke-linecap="round"/><rect x="7.100" y="5.600" width="1.900" height="1.900" transform="rotate(45 8 6.600)" fill="#f5b23a"/><path d="M6.200 11.800L10.800 8.200" stroke="#5a5cf6" stroke-width="2.300" stroke-linecap="round"/></svg></div>
<div class="t nm" style="left:143px;top:215.2px">ProBuyer Co.</div>
<div class="b bd" style="left:200.4px;top:210.7px;width:36.6px"><svg class="bi" viewBox="0 0 7 7"><circle cx="3.500" cy="3.500" r="2.600" fill="#38b552"/><path d="M2.600 3.600l.7.700 1.200-1.400" stroke="#dff5e5" stroke-width=".7" fill="none"/></svg><span>Completed</span></div>
<div class="t td" style="left:257.6px;top:215.9px">Oct 23, 2022</div>
<div class="t td" style="left:314.6px;top:215.9px">Oct 24, 2022</div>
<div class="t td" style="left:372px;top:215.9px">$120,000.00</div>
<div class="t td" style="left:429.4px;top:215.9px">Monthly</div>
<div class="pb" style="left:490px;top:210.4px"><i style="width:10.4px"></i></div>
<div class="t pl" style="left:490px;top:218.6px">3/12 Payments</div>
<div class="t td dash" style="left:544.4px;top:215.9px">-</div>
<div class="cp" style="left:605.2px;top:211.6px"><svg class="ci" viewBox="0 0 14 16" preserveAspectRatio="none"><rect x="1" y="1" width="9" height="10.4" rx="2" fill="#b9b9fa" stroke="#4040ee" stroke-width="1.9"/><rect x="4" y="4.6" width="9.4" height="10.6" rx="2.2" fill="#3636ea"/><rect x="6.6" y="9.4" width="4.2" height="3.4" rx="0.8" fill="#fff" opacity=".9"/></svg></div>
<div class="t cl" style="left:614.3px;top:215.8px">Copy link</div>
<svg class="ab dots" style="left:640.6px;top:214.6px" viewBox="0 0 7 2"><circle cx=".9" cy="1" r=".75"/><circle cx="3.5" cy="1" r=".75"/><circle cx="6.1" cy="1" r=".75"/></svg>
<div class="sep" style="top:230.8px"></div>
</div>
<div class="row">
<div class="t id" style="left:99.4px;top:246.9px">#165</div>
<div class="ib" style="left:119.9px;top:238.2px"><svg viewBox="0 0 16 16"><path d="M4 6.300q2.300-.2 4.500 1.300 2.200-1.500 4.500-1.300v4.200q-2.300.2-4.500-1.300-2.200 1.500-4.500 1.300z" fill="#9d88f5" stroke="#9d88f5" stroke-width=".7" stroke-linejoin="round"/><circle cx="5.600" cy="8.400" r=".9" fill="#6f74f6"/><circle cx="11.300" cy="8.400" r=".9" fill="#6f74f6"/></svg></div>
<div class="t nm" style="left:143px;top:246.2px">Bestbuyer Inc.</div>
<div class="b bo" style="left:200.4px;top:241.7px;width:29.6px"><svg class="bi" viewBox="0 0 7 7"><circle cx="3.500" cy="3.500" r="1.800" fill="#dcdcfc" stroke="#4545f0" stroke-width="1.100"/></svg><span>Opened</span></div>
<div class="t td" style="left:257.6px;top:246.9px">Oct 9, 2022</div>
<div class="t td dash" style="left:315px;top:246.9px">-</div>
<div class="t td" style="left:372px;top:246.9px">$125,000.00</div>
<div class="t td" style="left:429.4px;top:246.9px">Monthly</div>
<div class="pb" style="left:490px;top:241.4px"></div>
<div class="t pl" style="left:490px;top:249.6px">0/12 Payments</div>
<div class="t td" style="left:544px;top:246.9px">Nov 9, 2022</div>
<div class="cp" style="left:605.2px;top:242.6px"><svg class="ci" viewBox="0 0 14 16" preserveAspectRatio="none"><rect x="1" y="1" width="9" height="10.4" rx="2" fill="#b9b9fa" stroke="#4040ee" stroke-width="1.9"/><rect x="4" y="4.6" width="9.4" height="10.6" rx="2.2" fill="#3636ea"/><rect x="6.6" y="9.4" width="4.2" height="3.4" rx="0.8" fill="#fff" opacity=".9"/></svg></div>
<div class="t cl" style="left:614.3px;top:246.8px">Copy link</div>
<svg class="ab dots" style="left:640.6px;top:245.6px" viewBox="0 0 7 2"><circle cx=".9" cy="1" r=".75"/><circle cx="3.5" cy="1" r=".75"/><circle cx="6.1" cy="1" r=".75"/></svg>
</div>
<div class="row">
<div class="t id" style="left:99.4px;top:277.7px">#164</div>
<div class="ib" style="left:119.9px;top:269px"><svg viewBox="0 0 16 16"><path d="M9.500 4.700l2 3.100H7.900z" fill="#0d0df0" stroke="#0d0df0" stroke-width=".5" stroke-linejoin="round"/><circle cx="6.500" cy="9.800" r="1.700" fill="#0d0df0"/><rect x="8.700" y="8.300" width="3.200" height="3.300" rx=".7" fill="#0d0df0"/></svg></div>
<div class="t nm" style="left:143px;top:277px">Coolbuyer</div>
<div class="b bd" style="left:200.4px;top:272.5px;width:36.6px"><svg class="bi" viewBox="0 0 7 7"><circle cx="3.500" cy="3.500" r="2.600" fill="#38b552"/><path d="M2.600 3.600l.7.700 1.200-1.400" stroke="#dff5e5" stroke-width=".7" fill="none"/></svg><span>Completed</span></div>
<div class="t td" style="left:257.6px;top:277.7px">Sep 27, 2022</div>
<div class="t td" style="left:314.6px;top:277.7px">Sep 28, 2022</div>
<div class="t td" style="left:372px;top:277.7px">$120,000.00</div>
<div class="t td" style="left:429.4px;top:277.7px">Monthly</div>
<div class="pb" style="left:490px;top:272.2px"><i style="width:10.4px"></i></div>
<div class="t pl" style="left:490px;top:280.4px">3/12 Payments</div>
<div class="t td dash" style="left:544.4px;top:277.7px">-</div>
<div class="cp" style="left:605.2px;top:273.4px"><svg class="ci" viewBox="0 0 14 16" preserveAspectRatio="none"><rect x="1" y="1" width="9" height="10.4" rx="2" fill="#b9b9fa" stroke="#4040ee" stroke-width="1.9"/><rect x="4" y="4.6" width="9.4" height="10.6" rx="2.2" fill="#3636ea"/><rect x="6.6" y="9.4" width="4.2" height="3.4" rx="0.8" fill="#fff" opacity=".9"/></svg></div>
<div class="t cl" style="left:614.3px;top:277.6px">Copy link</div>
<svg class="ab dots" style="left:640.6px;top:276.4px" viewBox="0 0 7 2"><circle cx=".9" cy="1" r=".75"/><circle cx="3.5" cy="1" r=".75"/><circle cx="6.1" cy="1" r=".75"/></svg>
</div>
<div class="row">
<div class="t id" style="left:99.4px;top:308.6px">#163</div>
<div class="ib" style="left:119.9px;top:299.9px"><svg viewBox="-.6 -.7 17.400 17.400"><path d="M4.300 5l6.100.3q2.700 1.700 2.100 4.300-.8 2.200-3.200 2.700z" fill="none" stroke="#e84545" stroke-width="1.050" stroke-linejoin="round"/><path d="M6.500 6.800l2.800.2M8.800 7l.6 4.600M6.600 7l2.600 4.400" stroke="#e84545" stroke-width=".8" fill="none"/></svg></div>
<div class="t nm" style="left:143px;top:307.9px">GlobalBuyer</div>
<div class="b bf" style="left:200.4px;top:303.4px;width:25.6px"><svg class="bi" viewBox="0 0 7 7"><path d="M2.400.9h2.200l1.500 1.500v2.200L4.600 6.100H2.400L.9 4.600V2.400z" fill="#ea5050" stroke="#ea5050" stroke-width=".5" stroke-linejoin="round"/></svg><span>Failed</span></div>
<div class="t td" style="left:257.6px;top:308.6px">Sep 14, 2022</div>
<div class="t td dash" style="left:315px;top:308.6px">-</div>
<div class="t td" style="left:372px;top:308.6px">$95,000.00</div>
<div class="t td" style="left:429.4px;top:308.6px">Monthly</div>
<div class="pb" style="left:490px;top:303.1px"></div>
<div class="t pl" style="left:490px;top:311.3px">0/12 Payments</div>
<div class="t td dash" style="left:544.4px;top:308.6px">-</div>
<div class="cp" style="left:605.2px;top:304.3px"><svg class="ci" viewBox="0 0 14 16" preserveAspectRatio="none"><rect x="1" y="1" width="9" height="10.4" rx="2" fill="#b9b9fa" stroke="#4040ee" stroke-width="1.9"/><rect x="4" y="4.6" width="9.4" height="10.6" rx="2.2" fill="#3636ea"/><rect x="6.6" y="9.4" width="4.2" height="3.4" rx="0.8" fill="#fff" opacity=".9"/></svg></div>
<div class="t cl" style="left:614.3px;top:308.5px">Copy link</div>
<svg class="ab dots" style="left:640.6px;top:307.3px" viewBox="0 0 7 2"><circle cx=".9" cy="1" r=".75"/><circle cx="3.5" cy="1" r=".75"/><circle cx="6.1" cy="1" r=".75"/></svg>
</div>
<div class="row">
<div class="t id" style="left:99.4px;top:338.9px">#162</div>
<div class="ib" style="left:119.9px;top:330.2px"><svg viewBox="0 0 16 16"><path d="M6.200 4l2.300 1.200L11 3.900l.4 1.700-2.200 2.300-2.600 1.400-.6-2.600z" fill="#ea4a46" stroke="#ea4a46" stroke-width=".9" stroke-linejoin="round"/><path d="M10.300 8.300L6.900 11.500" stroke="#7a3cf0" stroke-width="2.100" stroke-linecap="round"/><circle cx="10.500" cy="8.200" r="1.050" fill="#5c74f8"/><circle cx="10.500" cy="11.600" r="1" fill="#3fb654"/></svg></div>
<div class="t nm" style="left:143px;top:338.2px">Smartbuyer</div>
<div class="b bo" style="left:200.4px;top:333.7px;width:29.6px"><svg class="bi" viewBox="0 0 7 7"><circle cx="3.500" cy="3.500" r="1.800" fill="#dcdcfc" stroke="#4545f0" stroke-width="1.100"/></svg><span>Opened</span></div>
<div class="t td" style="left:257.6px;top:338.9px">Sept 3, 2022</div>
<div class="t td dash" style="left:315px;top:338.9px">-</div>
<div class="t td" style="left:372px;top:338.9px">$105,000.00</div>
<div class="t td" style="left:429.4px;top:338.9px">Monthly</div>
<div class="pb" style="left:490px;top:333.4px"></div>
<div class="t pl" style="left:490px;top:341.6px">0/12 Payments</div>
<div class="t td" style="left:544px;top:338.9px">Oct 3, 2022</div>
<div class="cp" style="left:605.2px;top:334.6px"><svg class="ci" viewBox="0 0 14 16" preserveAspectRatio="none"><rect x="1" y="1" width="9" height="10.4" rx="2" fill="#b9b9fa" stroke="#4040ee" stroke-width="1.9"/><rect x="4" y="4.6" width="9.4" height="10.6" rx="2.2" fill="#3636ea"/><rect x="6.6" y="9.4" width="4.2" height="3.4" rx="0.8" fill="#fff" opacity=".9"/></svg></div>
<div class="t cl" style="left:614.3px;top:338.8px">Copy link</div>
<svg class="ab dots" style="left:640.6px;top:337.6px" viewBox="0 0 7 2"><circle cx=".9" cy="1" r=".75"/><circle cx="3.5" cy="1" r=".75"/><circle cx="6.1" cy="1" r=".75"/></svg>
</div>
<div class="row">
<div class="t id" style="left:99.4px;top:369.7px">#161</div>
<div class="ib" style="left:118.9px;top:361px"><svg viewBox="0 0 16 16"><path d="M4.700 8.200C5 10.700 7.600 10.800 8.400 8.300 9.100 5.800 11 5.300 12.300 7.300" stroke="#38b84f" stroke-width="1.700" fill="none" stroke-linecap="round"/></svg></div>
<div class="t nm" style="left:142px;top:369px">ProBuyer Co.</div>
<div class="b bs" style="left:199.4px;top:364.5px;width:31.6px"><svg class="bi" viewBox="0 0 7 7"><path d="M1.600 3.700l1.300 1.300 2.500-2.900" stroke="#3c3c46" stroke-width=".95" fill="none"/></svg><span>Link sent</span></div>
<div class="t td" style="left:257.6px;top:369.7px">Aug 28, 2022</div>
<div class="t td dash" style="left:315px;top:369.7px">-</div>
<div class="t td" style="left:372px;top:369.7px">$120,000.00</div>
<div class="t td" style="left:429px;top:369.7px">Monthly</div>
<div class="pb" style="left:490px;top:364.2px"></div>
<div class="t pl" style="left:490px;top:372.4px">0/12 Payments</div>
<div class="t td" style="left:544px;top:369.7px">Sept 28, 2022</div>
<div class="cp" style="left:605.2px;top:365.4px"><svg class="ci" viewBox="0 0 14 16" preserveAspectRatio="none"><rect x="1" y="1" width="9" height="10.4" rx="2" fill="#b9b9fa" stroke="#4040ee" stroke-width="1.9"/><rect x="4" y="4.6" width="9.4" height="10.6" rx="2.2" fill="#3636ea"/><rect x="6.6" y="9.4" width="4.2" height="3.4" rx="0.8" fill="#fff" opacity=".9"/></svg></div>
<div class="t cl" style="left:614.3px;top:369.6px">Copy link</div>
<svg class="ab dots" style="left:640.6px;top:368.4px" viewBox="0 0 7 2"><circle cx=".9" cy="1" r=".75"/><circle cx="3.5" cy="1" r=".75"/><circle cx="6.1" cy="1" r=".75"/></svg>
<div class="sep" style="top:384.6px"></div>
</div>
</div>

<div class="spot"><i class="s1"></i><i class="s2"></i><i class="s3"></i></div>

<div class="tip"><div class="arrow"></div>
<p>Click to see how to create payment link. Creating<br>a payment link is a simple and straightforward<br>process that can be done quickly and easily.</p>
</div>

<div class="skip"><span>Skip demo</span><svg viewBox="0 0 14 14"><path d="M1 1l12 12M13 1L1 13" stroke="#6c6c78" stroke-width="1.5" fill="none"/></svg></div>

</div>
</body>
</html>
